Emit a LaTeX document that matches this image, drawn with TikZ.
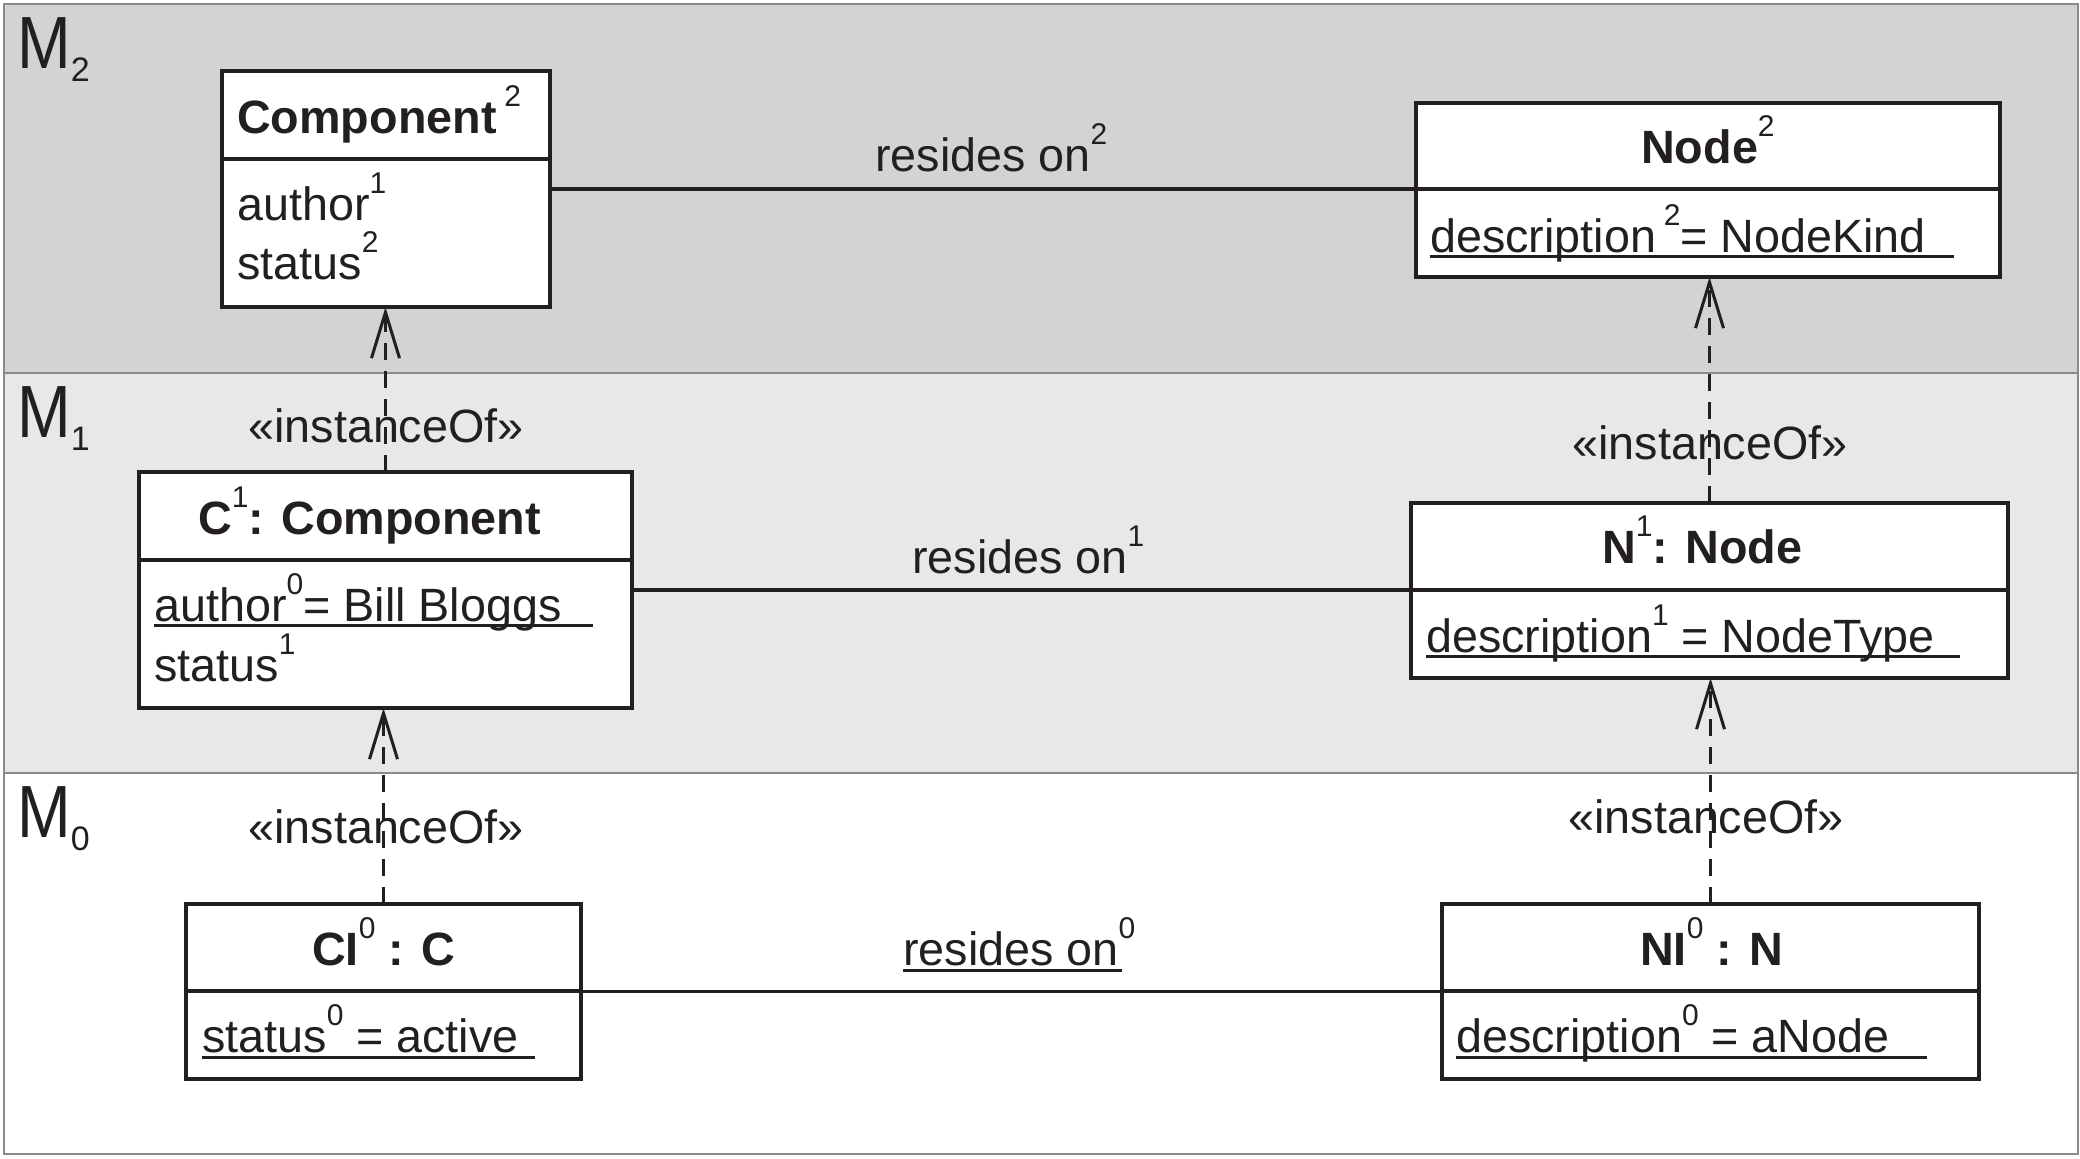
\documentclass[tikz,border=0pt]{standalone}
\usepackage{fontspec}
\setmainfont{Liberation Sans}
\usepackage{graphicx}
\usetikzlibrary{arrows.meta}
\definecolor{bandA}{HTML}{D3D3D3}
\definecolor{bandB}{HTML}{E8E8E8}
\definecolor{framec}{HTML}{8A8A8A}
\definecolor{ink}{HTML}{231F20}
\newcommand{\spx}[1]{\raisebox{27pt}{\fontsize{30}{30}\selectfont\mdseries #1}}
\newcommand{\mlab}[1]{\scalebox{0.87}[1]{\fontsize{74}{80}\selectfont M}\raisebox{-13pt}{\fontsize{34}{34}\selectfont #1}}
\begin{document}
\begin{tikzpicture}[x=1pt,y=-1pt,
  box/.style={draw=ink, line width=3.3pt, fill=white, rectangle, inner sep=0pt, outer sep=0pt, anchor=north west},
  divline/.style={draw=ink, line width=3.3pt},
  txt/.style={anchor=base west, inner sep=0pt, text=ink, font=\fontsize{46.7}{56}\selectfont},
  ttl/.style={txt, font=\fontsize{46.7}{56}\selectfont\bfseries},
  lbl/.style={anchor=base, inner sep=0pt, text=ink, font=\fontsize{46.7}{56}\selectfont},
  mtext/.style={anchor=base west, inner sep=0pt, text=ink},
  assoc/.style={draw=ink, line width=3.2pt},
  inst/.style={draw=ink, line width=3pt, dash pattern=on 17pt off 11pt, -{Straight Barb[length=46pt,width=28pt]}},
  ul/.style={draw=ink, line width=3pt},
  framel/.style={draw=framec, line width=2.2pt}]
\useasboundingbox (0,0) rectangle (2080,1159);
% bands
\fill[bandA] (4,4) rectangle (2078,373);
\fill[bandB] (4,373) rectangle (2078,773);
\draw[framel] (4,373) -- (2078,373);
\draw[framel] (4,773) -- (2078,773);
\draw[framel] (4,4) rectangle (2078,1154);
\node[mtext] (m2) at (17,68) {\mlab{2}};
\node[mtext] (m1) at (17,437) {\mlab{1}};
\node[mtext] (m0) at (17,837) {\mlab{0}};
% boxes
\node[box, minimum width=328pt, minimum height=236pt] (comp) at (222,71) {};
\node[box, minimum width=584pt, minimum height=174pt] (node2) at (1416,103) {};
\node[box, minimum width=493pt, minimum height=236pt] (c1) at (139,472) {};
\node[box, minimum width=597pt, minimum height=175pt] (n1) at (1411,503) {};
\node[box, minimum width=395pt, minimum height=175pt] (ci0) at (186,904) {};
\node[box, minimum width=537pt, minimum height=175pt] (ni0) at (1442,904) {};
% dividers
\draw[divline] (comp.west |- 0,159) -- (comp.east |- 0,159);
\draw[divline] (node2.west |- 0,189) -- (node2.east |- 0,189);
\draw[divline] (c1.west |- 0,560) -- (c1.east |- 0,560);
\draw[divline] (n1.west |- 0,590) -- (n1.east |- 0,590);
\draw[divline] (ci0.west |- 0,991) -- (ci0.east |- 0,991);
\draw[divline] (ni0.west |- 0,991) -- (ni0.east |- 0,991);
% associations
\draw[assoc] (comp.east) -- (comp.east -| node2.west);
\draw[assoc] (c1.east) -- (c1.east -| n1.west);
\draw[assoc] (ci0.east) -- (ci0.east -| ni0.west);
\node[txt] (r2) at (875,171.7) {resides on\spx{2}};
\node[txt] (r1) at (912,573) {resides on\spx{1}};
\node[txt] (r0) at (903,965) {resides on\spx{0}};
\draw[ul] ([yshift=-5pt]r0.base west) -- ++(219,0);
% box texts
\node[ttl] (t1) at (237,133) {Component\,\spx{2}};
\node[txt] (a1) at (237,220) {author\spx{1}};
\node[txt] (b1) at (237,279) {status\spx{2}};
\node[ttl] (t2) at (1641,163) {Node\spx{2}};
\node[txt] (a2) at (1430,252) {description\,\spx{2}= NodeKind};
\draw[ul] ([yshift=-4pt]a2.base west) -- ++(524,0);
\node[ttl] (t3) at (198,534) {C\spx{1}: Component};
\node[txt] (a3) at (154,621) {author\spx{0}= Bill Bloggs};
\draw[ul] ([yshift=-4pt]a3.base west) -- ++(439,0);
\node[txt] (b3) at (154,681) {status\spx{1}};
\node[ttl] (t4) at (1602,563) {N\spx{1}: Node};
\node[txt] (a4) at (1426,652) {description\spx{1} = NodeType};
\draw[ul] ([yshift=-4pt]a4.base west) -- ++(534,0);
\node[ttl] (t5) at (312,965) {CI\spx{0} : C};
\node[txt] (a5) at (202,1052) {status\spx{0} = active};
\draw[ul] ([yshift=-5pt]a5.base west) -- ++(333,0);
\node[ttl] (t6) at (1640,965) {NI\spx{0} : N};
\node[txt] (a6) at (1456,1052) {description\spx{0} = aNode};
\draw[ul] ([yshift=-5pt]a6.base west) -- ++(471,0);
% instanceOf
\node[lbl] (i1) at (386,442) {«instanceOf»};
\node[lbl] (i2) at (386,843) {«instanceOf»};
\node[lbl] (i3) at (1710,459) {«instanceOf»};
\node[lbl] (i4) at (1706,833) {«instanceOf»};
\draw[inst] (c1.north) -- (c1.north |- comp.south);
\draw[inst] (ci0.north) -- (ci0.north |- c1.south);
\draw[inst] (n1.north) -- (n1.north |- node2.south);
\draw[inst] (ni0.north) -- (ni0.north |- n1.south);
\end{tikzpicture}
\end{document}
